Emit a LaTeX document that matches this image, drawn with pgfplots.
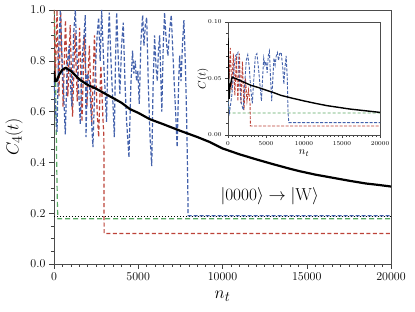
\documentclass[border=0pt]{standalone}
\usepackage{pgfplots}
\pgfplotsset{compat=1.18}
\definecolor{cblue}{RGB}{68,98,172}
\definecolor{cred}{RGB}{188,66,56}
\definecolor{cgreen}{RGB}{88,168,98}
\begin{document}
\begin{tikzpicture}[x=1pt,y=1pt]
\path[use as bounding box] (-54,-48) rectangle (361,264);
\begin{axis}[
  at={(0,0)}, anchor=south west,
  scale only axis, width=337pt, height=254pt,
  xmin=0, xmax=20000, ymin=0, ymax=1.0,
  xtick={0,5000,10000,15000,20000},
  ytick={0,0.2,0.4,0.6,0.8,1.0},
  minor x tick num=9, minor y tick num=3,
  scaled x ticks=false,
  xticklabel style={/pgf/number format/set thousands separator={}},
  yticklabel style={/pgf/number format/fixed, /pgf/number format/fixed zerofill, /pgf/number format/precision=1},
  tick align=outside, xtick pos=bottom, ytick pos=left,
  major tick length=5pt, minor tick length=3pt,
  tick style={black!75, line width=0.5pt},
  axis line style={black!70, line width=0.8pt},
  tick label style={font=\fontsize{13}{14}\selectfont},
  xlabel={$n_t$}, ylabel={$C_4(t)$},
  label style={font=\fontsize{19}{20}\selectfont},
  xlabel style={at={(axis description cs:0.5,0)}, anchor=center, yshift=-32pt},
  ylabel style={at={(axis description cs:0,0.5)}, anchor=center, rotate=0, yshift=40pt},
]
% black dotted
\addplot[black, line width=1.4pt, dash pattern=on 1.2pt off 1.8pt] coordinates {(0,0.188) (20000,0.188)};
% green
\addplot[cgreen, line width=1.2pt, dash pattern=on 5pt off 3pt] coordinates {
(0,1.0) (40,0.95) (80,0.8) (120,0.6) (160,0.4) (200,0.24) (230,0.178) (20000,0.178)};
% red
\addplot[cred, line width=1.2pt, dash pattern=on 4pt off 2.5pt] coordinates {
(0,1.0) (80,0.72) (180,1.0) (290,0.66) (400,0.99) (540,0.62) (680,0.96) (820,0.66) (960,0.94)
(1100,0.58) (1250,0.91) (1380,0.64) (1520,0.93) (1660,0.56) (1800,0.9) (1950,0.62) (2100,0.86)
(2240,0.55) (2400,0.9) (2560,0.6) (2650,0.5) (2780,0.78) (2900,0.58) (2960,0.5) (2975,0.12) (20000,0.12)};
% blue
\addplot[cblue, line width=1.2pt, dash pattern=on 4pt off 2pt] coordinates {
(0,0.72) (100,0.6) (180,0.52) (280,0.85) (375,1.0) (480,0.8) (560,0.7) (670,0.51) (780,0.78)
(900,0.86) (980,0.7) (1060,0.62) (1160,0.9) (1265,1.0) (1360,0.82) (1450,0.7) (1560,0.55)
(1680,0.82) (1780,0.9) (1860,0.98) (1900,0.5) (1980,0.75) (2100,0.72) (2200,0.6) (2310,0.46)
(2450,0.76) (2560,0.9) (2650,0.97) (2740,0.8) (2830,1.0) (2930,0.82) (3020,0.7) (3120,0.56)
(3200,0.85) (3280,0.99) (3380,0.8) (3480,0.66) (3580,0.5) (3650,0.8) (3720,0.99) (3820,0.8)
(3910,0.67) (4010,0.86) (4110,0.95) (4210,0.72) (4310,0.56) (4450,0.42) (4560,0.7) (4660,0.84)
(4740,0.75) (4820,0.8) (4900,0.72) (4980,0.76) (5060,0.63) (5160,0.88) (5260,0.98) (5340,0.86)
(5420,0.94) (5500,0.97) (5600,0.7) (5700,0.5) (5800,0.385) (5880,0.7) (5970,0.9) (6050,0.78)
(6130,0.72) (6200,0.84) (6270,0.9) (6330,0.75) (6400,0.6) (6480,0.85) (6560,0.99) (6660,0.88)
(6760,0.82) (6860,0.92) (6960,0.98) (7060,0.82) (7160,0.68) (7310,0.46) (7400,0.72) (7460,0.82)
(7540,0.72) (7620,0.86) (7710,0.96) (7800,0.78) (7880,0.55) (7940,0.3) (7960,0.19) (20000,0.19)};
% black solid
\addplot[black, line width=2.2pt] coordinates {
(0,0.76) (60,0.72) (150,0.72) (300,0.745) (500,0.765) (700,0.772) (1000,0.76) (1540,0.725)
(2000,0.705) (2500,0.69) (3320,0.66) (4000,0.635) (4500,0.61) (5000,0.595) (5690,0.57)
(6500,0.55) (7470,0.525) (8500,0.5) (9250,0.48) (10000,0.455) (11000,0.432) (12000,0.412)
(13000,0.393) (14000,0.375) (14600,0.365) (15500,0.352) (16500,0.34) (17500,0.328)
(18500,0.317) (19300,0.311) (20000,0.305)};
\node[font=\fontsize{17}{20}\selectfont] at (axis cs:12800,0.266) {$|0000\rangle \rightarrow |\mathrm{W}\rangle$};
\end{axis}
\begin{axis}[
  at={(174pt,129pt)}, anchor=south west,
  scale only axis, width=152pt, height=113pt,
  axis background/.style={fill=white},
  xmin=0, xmax=20000, ymin=0, ymax=0.10,
  xtick={0,5000,10000,15000,20000},
  ytick={0,0.05,0.10},
  minor x tick num=9, minor y tick num=4,
  scaled x ticks=false, scaled y ticks=false,
  xticklabel style={/pgf/number format/set thousands separator={}},
  yticklabel style={/pgf/number format/fixed, /pgf/number format/fixed zerofill, /pgf/number format/precision=2},
  tick align=outside, xtick pos=bottom, ytick pos=left,
  major tick length=3pt, minor tick length=1.8pt,
  tick style={black!75, line width=0.4pt},
  axis line style={black!70, line width=0.7pt},
  tick label style={font=\fontsize{6}{7}\selectfont},
  xlabel={$n_t$}, ylabel={$C(t)$},
  label style={font=\fontsize{11}{12}\selectfont},
  xlabel style={at={(axis description cs:0.5,0)}, anchor=center, yshift=-18pt},
  ylabel style={at={(axis description cs:0,0.5)}, anchor=center, yshift=25pt},
]
\addplot[cgreen, line width=0.9pt, dash pattern=on 3pt off 2pt] coordinates {
(0,0.03) (100,0.024) (200,0.0195) (20000,0.0195)};
\addplot[cred, line width=0.9pt, dash pattern=on 3pt off 1.5pt] coordinates {
(0,0.08) (150,0.05) (300,0.077) (500,0.04) (700,0.072) (900,0.035) (1100,0.07) (1300,0.03)
(1500,0.072) (1700,0.028) (1900,0.065) (2100,0.022) (2300,0.05) (2500,0.03) (2700,0.04)
(2900,0.028) (2950,0.008) (20000,0.008)};
\addplot[cblue, line width=0.9pt, dash pattern=on 3pt off 1.5pt] coordinates {
(0,0.03) (200,0.02) (500,0.035) (800,0.06) (1000,0.07) (1300,0.073) (1500,0.05) (1700,0.03)
(2000,0.022) (2200,0.045) (2400,0.066) (2600,0.071) (2800,0.06) (3000,0.04) (3200,0.028)
(3400,0.05) (3600,0.07) (3800,0.072) (4000,0.06) (4200,0.045) (4400,0.03) (4550,0.05)
(4700,0.068) (4850,0.062) (5000,0.065) (5150,0.055) (5300,0.07) (5450,0.074) (5600,0.05)
(5750,0.03) (5900,0.05) (6050,0.068) (6200,0.062) (6350,0.07) (6500,0.073) (6650,0.066)
(6800,0.072) (7000,0.073) (7200,0.06) (7350,0.045) (7500,0.06) (7650,0.07) (7800,0.05)
(7900,0.02) (8000,0.011) (20000,0.011)};
\addplot[black, line width=1.4pt] coordinates {
(0,0.086) (60,0.06) (150,0.032) (250,0.042) (530,0.051) (1000,0.05) (2000,0.047) (3000,0.044)
(4000,0.042) (4870,0.040) (6000,0.0375) (7000,0.035) (8500,0.0325) (10100,0.030) (11500,0.028)
(13000,0.026) (14500,0.0245) (16000,0.023) (18000,0.0215) (20000,0.020)};
\end{axis}
\end{tikzpicture}
\end{document}
